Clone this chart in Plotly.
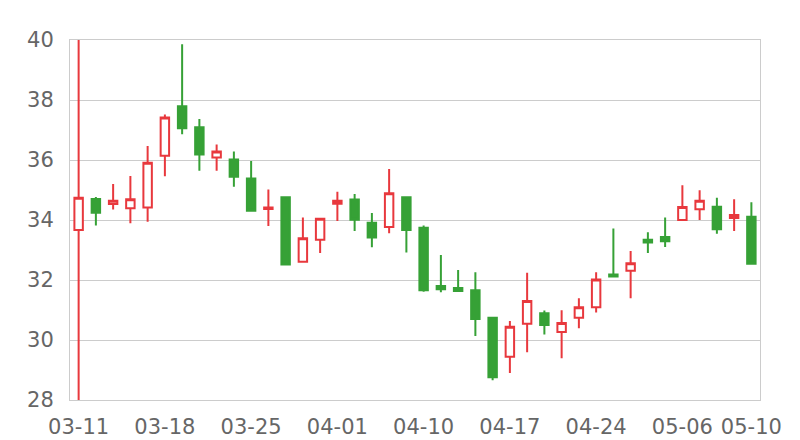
import plotly.graph_objects as go

dates = ["03-11", "03-12", "03-13", "03-14", "03-15",
         "03-18", "03-19", "03-20", "03-21", "03-22",
         "03-25", "03-26", "03-27", "03-28", "03-29",
         "04-01", "04-02", "04-03", "04-08", "04-09",
         "04-10", "04-11", "04-12", "04-15", "04-16",
         "04-17", "04-18", "04-19", "04-22", "04-23",
         "04-24", "04-25", "04-26", "04-29", "04-30",
         "05-06", "05-07", "05-08", "05-09", "05-10"]

open_ = [33.67, 34.70, 34.53, 34.39, 34.42,
         36.14, 37.79, 37.09, 36.08, 36.02,
         35.38, 34.37, 34.76, 32.61, 33.34,
         34.54, 34.68, 33.91, 33.77, 34.76,
         33.74, 31.80, 31.73, 31.66, 30.74,
         29.44, 30.54, 30.89, 30.27, 30.74,
         31.09, 32.18, 32.31, 33.34, 33.43,
         34.00, 34.36, 34.44, 34.07, 34.11]
high = [40.60, 34.77, 35.20, 35.47, 36.47,
        37.52, 39.86, 37.37, 36.52, 36.28,
        35.97, 35.02, 34.77, 34.08, 34.05,
        34.94, 34.87, 34.23, 35.70, 34.77,
        33.82, 32.83, 32.33, 32.26, 30.75,
        30.63, 32.24, 30.98, 30.99, 31.39,
        32.26, 33.72, 32.97, 33.59, 34.08,
        35.16, 34.99, 34.74, 34.69, 34.59]
low = [27.40, 33.82, 34.35, 33.89, 33.94,
       35.46, 36.86, 35.64, 35.64, 35.11,
       34.28, 33.80, 32.52, 32.60, 32.90,
       33.97, 33.63, 33.09, 33.56, 32.92,
       31.61, 31.59, 31.60, 30.13, 28.66,
       28.90, 29.59, 30.18, 29.39, 30.39,
       30.92, 32.11, 31.39, 32.90, 33.10,
       34.00, 34.00, 33.54, 33.63, 32.54]
close = [34.74, 34.24, 34.64, 34.69, 35.91,
         37.42, 37.06, 36.18, 36.28, 35.44,
         34.31, 34.42, 32.52, 33.39, 34.04,
         34.64, 34.01, 33.42, 34.89, 33.67,
         31.66, 31.69, 31.63, 30.70, 28.76,
         30.44, 31.30, 30.50, 30.57, 31.09,
         32.02, 32.12, 32.56, 33.25, 33.29,
         34.43, 34.64, 33.69, 34.17, 32.54]

tick_labels = ["03-11", "03-18", "03-25", "04-01", "04-10",
               "04-17", "04-24", "05-06", "05-10"]
y_ticks = [28, 30, 32, 34, 36, 38, 40]

RED = "#e8383d"
GREEN = "#36a136"

fig = go.Figure(go.Candlestick(
    x=dates, open=open_, high=high, low=low, close=close,
    increasing=dict(line=dict(color=RED, width=2), fillcolor="#ffffff"),
    decreasing=dict(line=dict(color=GREEN, width=2), fillcolor=GREEN),
    whiskerwidth=0,
    showlegend=False,
))

# page body has an 8px margin; figure sized so plot area lands at 70..760 x 40..400
fig.update_layout(
    width=792, height=432,
    margin=dict(l=62, r=40, t=32, b=40, autoexpand=False),
    paper_bgcolor="white", plot_bgcolor="white",
    font=dict(family="DejaVu Sans", size=21, color="#666666"),
    boxgap=0.3,
    xaxis=dict(
        type="category", rangeslider=dict(visible=False),
        range=[-0.5, len(dates) - 0.5], automargin=False,
        tickmode="array", tickvals=tick_labels, ticktext=tick_labels,
        showgrid=False, showline=True, mirror=True,
        linecolor="#cccccc", linewidth=1, ticks="", tickangle=0,
        ticklabelstandoff=8,
    ),
    yaxis=dict(
        range=[28, 40], tickvals=y_ticks, automargin=False,
        showgrid=True, gridcolor="#cccccc", gridwidth=1,
        showline=True, mirror=True, linecolor="#cccccc", linewidth=1,
        ticks="", zeroline=False, ticklabelstandoff=11,
    ),
)

fig.write_html("out.html")
